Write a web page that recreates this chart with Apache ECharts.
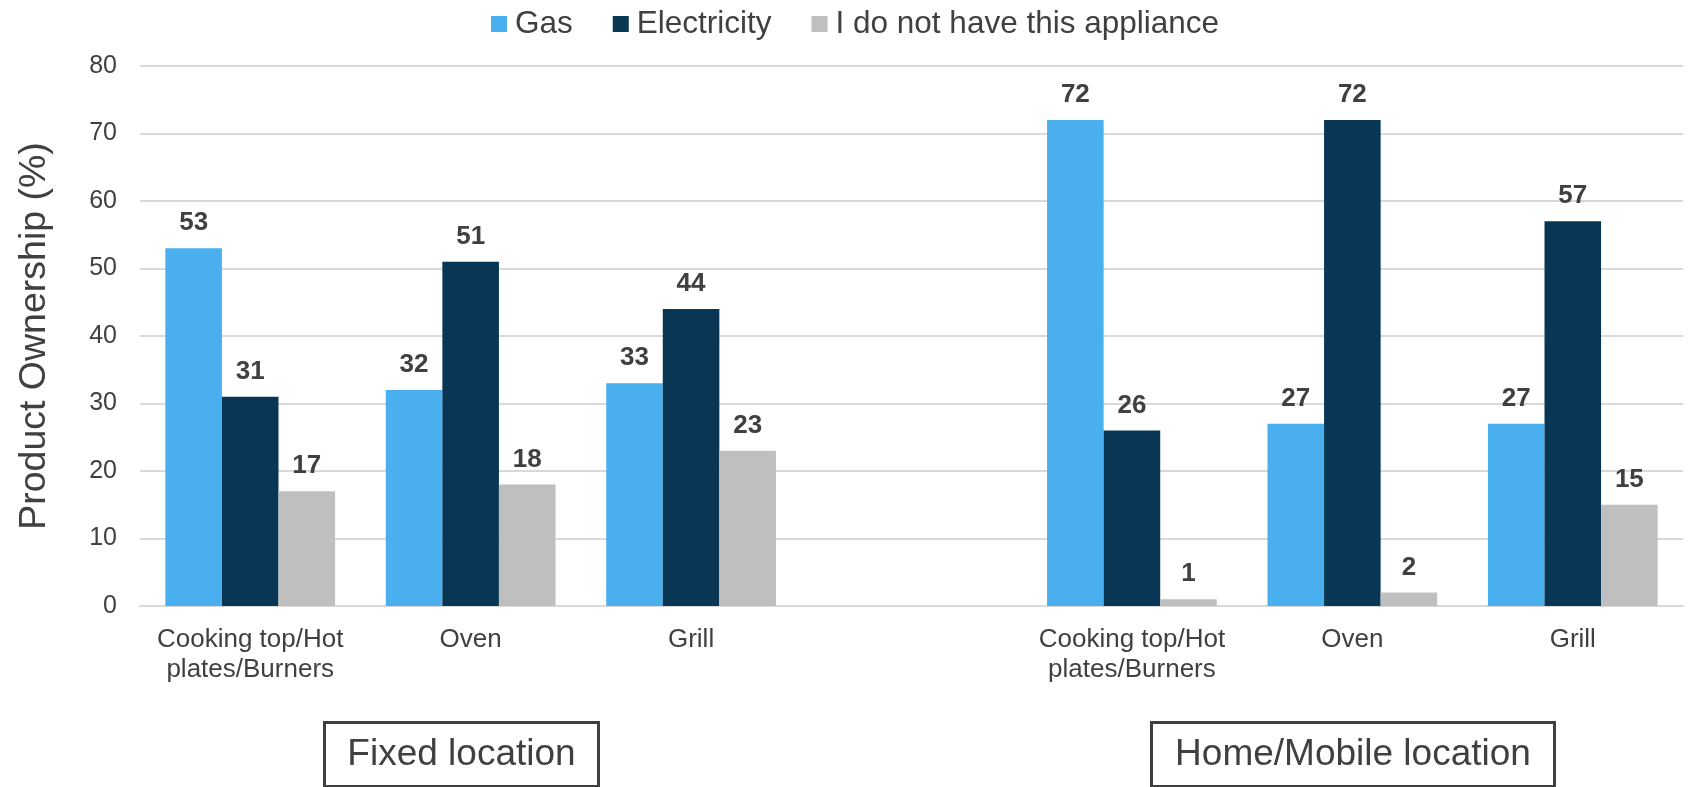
<!DOCTYPE html>
<html>
<head>
<meta charset="utf-8">
<title>Product Ownership</title>
<script src="https://cdn.jsdelivr.net/npm/echarts@6/dist/echarts.min.js"></script>
<style>
  html, body { margin: 0; padding: 0; background: #fff; }
  #chart { width: 1692px; height: 787px; }
</style>
</head>
<body>
<div id="chart"></div>
<script>
// categories: the empty one in the middle keeps the gap between the two groups
const categories = [
    'Cooking top/Hot\nplates/Burners', 'Oven', 'Grill',
    '',
    'Cooking top/Hot\nplates/Burners', 'Oven', 'Grill'
];
const seriesNames = ['Gas', 'Electricity', 'I do not have this appliance'];
const gasValues = [53, 32, 33, '-', 72, 27, 27];
const electricityValues = [31, 51, 44, '-', 26, 72, 57];
const noApplianceValues = [17, 18, 23, '-', 1, 2, 15];
const yTicks = [0, 10, 20, 30, 40, 50, 60, 70, 80];
const groupLabels = ['Fixed location', 'Home/Mobile location'];

const FONT = '"Liberation Sans", Arial, sans-serif';
const TEXT = '#404040';
const colors = ['#49AFEF', '#083654', '#BFBFBF'];

const chart = echarts.init(document.getElementById('chart'));

function barSeries(name, data, color) {
    return {
        name: name,
        type: 'bar',
        data: data,
        barGap: '0%',
        barCategoryGap: '23%',
        itemStyle: { color: color },
        label: {
            show: true,
            position: 'top',
            distance: 12,
            fontFamily: FONT,
            fontSize: 26,
            fontWeight: 'bold',
            color: TEXT
        }
    };
}

// boxed group captions under the axis
function groupBox(text, left, width) {
    const h = 64;
    return {
        type: 'group',
        left: left,
        top: 721,
        children: [
            {
                type: 'rect',
                shape: { x: 0, y: 0, width: width, height: h },
                style: { fill: '#fff', stroke: TEXT, lineWidth: 3 }
            },
            {
                type: 'text',
                x: width / 2,
                y: h / 2,
                style: {
                    text: text,
                    fill: TEXT,
                    fontFamily: FONT,
                    fontSize: 37,
                    textAlign: 'center',
                    textVerticalAlign: 'middle',
                    verticalAlign: 'middle'
                }
            }
        ]
    };
}

const option = {
    backgroundColor: '#fff',
    animation: false,
    legend: {
        data: seriesNames,
        left: 486,
        top: 3,
        icon: 'rect',
        itemWidth: 16,
        itemHeight: 16,
        itemGap: 40,
        textStyle: {
            fontFamily: FONT,
            fontSize: 31.5,
            color: TEXT,
            padding: [0, 0, 0, 3]
        }
    },
    grid: {
        left: 140,
        right: 9,
        top: 66,
        bottom: 181,
        containLabel: false
    },
    xAxis: {
        type: 'category',
        data: categories,
        axisTick: { show: false },
        axisLine: { lineStyle: { color: '#D9D9D9', width: 2 } },
        axisLabel: {
            interval: 0,
            margin: 19,
            fontFamily: FONT,
            fontSize: 26,
            lineHeight: 30,
            color: TEXT
        }
    },
    yAxis: {
        type: 'value',
        min: yTicks[0],
        max: yTicks[yTicks.length - 1],
        interval: yTicks[1] - yTicks[0],
        name: 'Product Ownership (%)',
        nameLocation: 'middle',
        nameRotate: 90,
        nameGap: 86,
        nameTextStyle: { fontFamily: FONT, fontSize: 37.5, color: TEXT },
        axisLine: { show: false },
        axisTick: { show: false },
        axisLabel: {
            margin: 23,
            fontFamily: FONT,
            fontSize: 25,
            color: TEXT
        },
        splitLine: { lineStyle: { color: '#D9D9D9', width: 2 } }
    },
    series: [
        barSeries(seriesNames[0], gasValues, colors[0]),
        barSeries(seriesNames[1], electricityValues, colors[1]),
        barSeries(seriesNames[2], noApplianceValues, colors[2])
    ],
    graphic: [
        groupBox(groupLabels[0], 323, 274),
        groupBox(groupLabels[1], 1150, 403)
    ]
};

chart.setOption(option);
window.addEventListener('resize', () => chart.resize());
</script>
</body>
</html>
